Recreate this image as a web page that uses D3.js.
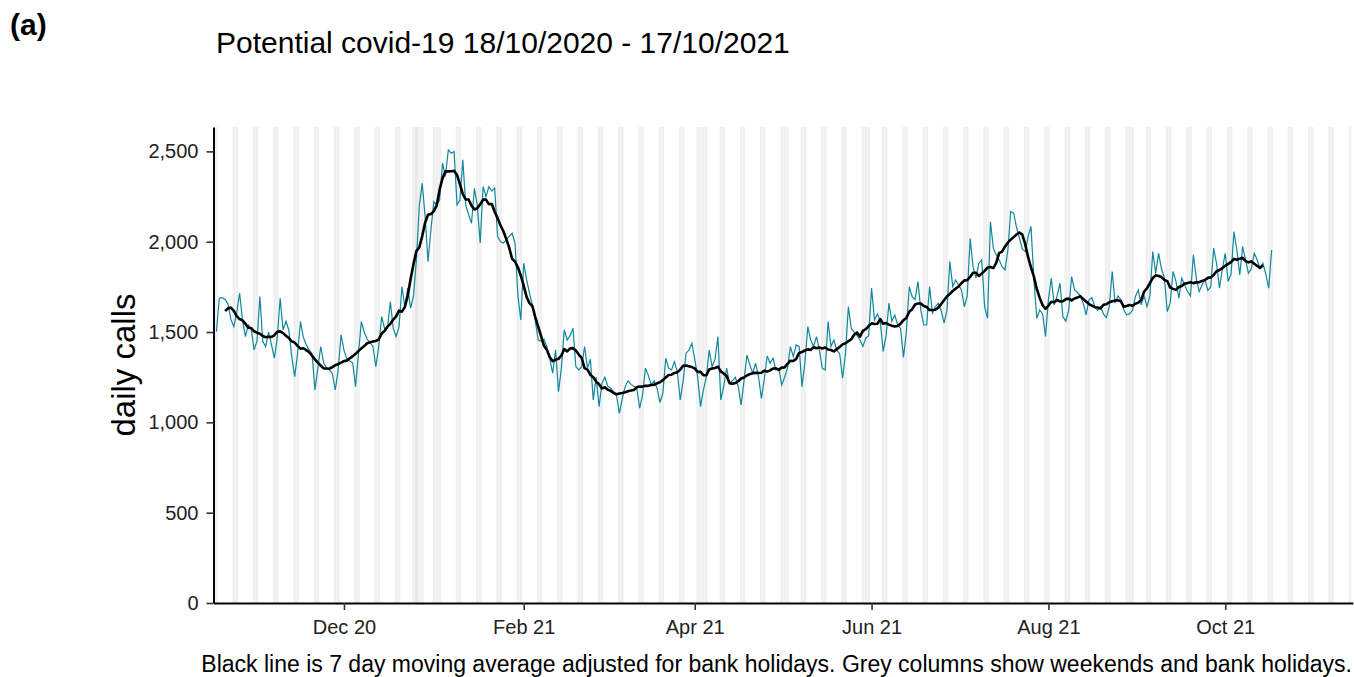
<!DOCTYPE html>
<html>
<head>
<meta charset="utf-8">
<script src="https://cdnjs.cloudflare.com/ajax/libs/d3/7.8.5/d3.min.js"></script>
<style>
body { margin: 0; background: #fff; }
text { font-family: "Liberation Sans", Arial, Helvetica, sans-serif; }
</style>
</head>
<body>
<svg id="chart" width="1354" height="677"></svg>
<script>
// daily calls, one value per day starting Sun 18/10/2020 (rows are Sun..Sat)
var startDay = "2020-10-18";
var calls = [
  1502, 1687, 1690, 1680, 1655, 1570, 1530,
  1605, 1716, 1567, 1475, 1540, 1520, 1401,
  1450, 1696, 1447, 1420, 1500, 1430, 1355,
  1470, 1687, 1512, 1560, 1510, 1364, 1253,
  1380, 1558, 1470, 1430, 1400, 1380, 1179,
  1300, 1420, 1330, 1300, 1290, 1270, 1179,
  1290, 1484, 1400, 1350, 1340, 1330, 1198,
  1380, 1558, 1500, 1460, 1440, 1420, 1308,
  1420, 1585, 1520, 1520, 1668, 1520, 1475,
  1530, 1751, 1641, 1743, 1632, 1700, 1900,
  2200, 2324, 2139, 1890, 2065, 2222, 2204,
  2230, 2435, 2361, 2508, 2490, 2499, 2204,
  2231, 2453, 2204, 2150, 2102, 2296, 2200,
  1993, 2305, 2250, 2305, 2280, 2296, 2028,
  2000, 1993, 2010, 2030, 2047, 1993, 1700,
  1567, 1881, 1790, 1715, 1650, 1560, 1456,
  1450, 1460, 1419, 1350, 1272, 1401, 1170,
  1300, 1512, 1456, 1480, 1521, 1308, 1290,
  1308, 1420, 1300, 1350, 1124, 1250, 1087,
  1216, 1250, 1200, 1189, 1170, 1150, 1050,
  1130, 1198, 1230, 1210, 1200, 1190, 1078,
  1150, 1300, 1260, 1207, 1230, 1189, 1110,
  1161, 1355, 1300, 1290, 1336, 1280, 1124,
  1230, 1383, 1400, 1438, 1350, 1253, 1087,
  1180, 1250, 1400, 1308, 1350, 1475, 1124,
  1200, 1300, 1216, 1230, 1250, 1200, 1096,
  1230, 1373, 1318, 1272, 1327, 1253, 1133,
  1240, 1368, 1327, 1355, 1290, 1300, 1207,
  1250, 1300, 1419, 1364, 1429, 1420, 1198,
  1330, 1530, 1456, 1420, 1475, 1400, 1300,
  1290, 1558, 1420, 1456, 1400, 1380, 1244,
  1380, 1641, 1520, 1500, 1480, 1456, 1420,
  1466, 1480, 1743, 1567, 1600, 1560, 1392,
  1480, 1660, 1560, 1595, 1540, 1520, 1360,
  1500, 1751, 1696, 1680, 1779, 1620, 1539,
  1539, 1751, 1604, 1640, 1660, 1620, 1549,
  1620, 1890, 1751, 1788, 1760, 1733, 1640,
  1700, 2019, 1862, 1798, 1881, 1899, 1640,
  1576, 2111, 1964, 1927, 1900, 1862, 1844,
  1950, 2167, 2158, 2080, 2019, 1960, 1945,
  2028, 2084, 1788, 1576, 1622, 1600, 1475,
  1678, 1798, 1650, 1700, 1770, 1585, 1560,
  1620, 1807, 1733, 1720, 1700, 1660, 1595,
  1678, 1690, 1640, 1620, 1640, 1600, 1580,
  1640, 1835, 1660, 1700, 1680, 1622, 1595,
  1600, 1620, 1696, 1733, 1650, 1700, 1640,
  1700, 1945, 1825, 1936, 1850, 1800, 1613,
  1660, 1835, 1780, 1687, 1798, 1760, 1724,
  1700, 1927, 1800, 1724, 1760, 1790, 1730,
  1750, 1964, 1880, 1743, 1850, 1936, 1780,
  1820, 2056, 1954, 1816, 1973, 1900, 1825,
  1850, 1936, 1900, 1853, 1880, 1820, 1743,
  1954
];
var bankHolidays = ["2020-12-25", "2020-12-26", "2020-12-28", "2021-01-01", "2021-04-02",
                    "2021-04-05", "2021-05-03", "2021-05-31", "2021-08-30"];
var xTickDays = ["2020-12-01", "2021-02-01", "2021-04-01", "2021-06-01", "2021-08-01", "2021-10-01"];
var xTickLabels = ["Dec 20", "Feb 21", "Apr 21", "Jun 21", "Aug 21", "Oct 21"];
var yTicks = [0, 500, 1000, 1500, 2000, 2500];

var titleText = "Potential covid-19 18/10/2020 - 17/10/2021";
var captionText = "Black line is 7 day moving average adjusted for bank holidays. Grey columns show weekends and bank holidays.";

var parseDay = d3.utcParse("%Y-%m-%d");
var day0 = parseDay(startDay);

var series = calls.map(function(v, i) {
  return {date: d3.utcDay.offset(day0, i), value: v};
});

// centred 7 day mean
var smooth = [];
for (var i = 3; i < calls.length - 3; i++) {
  smooth.push({date: series[i].date, value: d3.mean(calls.slice(i - 3, i + 4))});
}

var svg = d3.select("#chart");
var panelTop = 127, panelBottom = 603, panelLeft = 213.5, panelRight = 1352.8;

var x = d3.scaleUtc()
  .domain([parseDay("2020-10-17"), parseDay("2021-11-14")])
  .range([panelLeft, panelRight]);
var y = d3.scaleLinear()
  .domain([0, 2635])
  .range([panelBottom, panelTop]);

var dayWidth = x(d3.utcDay.offset(day0, 1)) - x(day0);
var colWidth = dayWidth * 0.9;

// grey columns: weekends + bank holidays
var holidaySet = bankHolidays.map(function(s) { return +parseDay(s); });
var allDays = d3.utcDays(parseDay("2020-10-17"), parseDay("2021-11-14"));
var greyDays = [];
allDays.forEach(function(d) {
  var wd = d.getUTCDay();
  if (wd === 0 || wd === 6) greyDays.push(d);
  if (holidaySet.indexOf(+d) >= 0) greyDays.push(d);
});

function colLeft(d) { return Math.max(panelLeft, x(d) - colWidth / 2); }
function colRight(d) { return Math.min(panelRight, x(d) + colWidth / 2); }

svg.append("g")
  .selectAll("rect")
  .data(greyDays).enter()
  .append("rect")
  .attr("x", colLeft)
  .attr("width", function(d) { return colRight(d) - colLeft(d); })
  .attr("y", panelTop)
  .attr("height", panelBottom - panelTop)
  .attr("fill", "#d9d9d9")
  .attr("opacity", 0.4);

// daily line
var line = d3.line()
  .x(function(d) { return x(d.date); })
  .y(function(d) { return y(d.value); });

svg.append("path")
  .datum(series)
  .attr("d", line)
  .attr("fill", "none")
  .attr("stroke", "#0f879c")
  .attr("stroke-width", 1.2);

svg.append("path")
  .datum(smooth)
  .attr("d", line)
  .attr("fill", "none")
  .attr("stroke", "#000")
  .attr("stroke-width", 2.6)
  .attr("stroke-linejoin", "round");

// axes
var xAxis = d3.axisBottom(x)
  .tickValues(xTickDays.map(parseDay))
  .tickFormat(function(d, i) { return xTickLabels[i]; })
  .tickSize(7)
  .tickSizeOuter(0)
  .tickPadding(10);

var gx = svg.append("g")
  .attr("transform", "translate(0," + panelBottom + ")")
  .call(xAxis);

var yAxis = d3.axisLeft(y)
  .tickValues(yTicks)
  .tickFormat(d3.format(","))
  .tickSize(7)
  .tickSizeOuter(0)
  .tickPadding(8);

var gy = svg.append("g")
  .attr("transform", "translate(" + panelLeft + ",0)")
  .call(yAxis);

[gx, gy].forEach(function(g) {
  g.select(".domain").attr("stroke", "#000").attr("stroke-width", 2);
  g.selectAll(".tick line").attr("stroke", "#333").attr("stroke-width", 1.6);
  g.selectAll(".tick text")
    .attr("fill", "#222")
    .style("font-size", "20px")
    .style("font-family", "'Liberation Sans', Arial, sans-serif");
});

// labels
svg.append("text")
  .attr("x", 10).attr("y", 35)
  .attr("style", "font-size: 30px; font-weight: bold")
  .attr("fill", "#000")
  .text("(a)");

svg.append("text")
  .attr("x", 216).attr("y", 53)
  .attr("style", "font-size: 30px")
  .attr("fill", "#000")
  .text(titleText);

svg.append("text")
  .attr("transform", "translate(135," + ((panelTop + panelBottom) / 2) + ") rotate(-90)")
  .attr("text-anchor", "middle")
  .attr("style", "font-size: 33px")
  .attr("fill", "#000")
  .text("daily calls");

svg.append("text")
  .attr("x", 1352).attr("y", 672)
  .attr("text-anchor", "end")
  .attr("style", "font-size: 23px")
  .attr("fill", "#000")
  .text(captionText);
</script>
</body>
</html>
